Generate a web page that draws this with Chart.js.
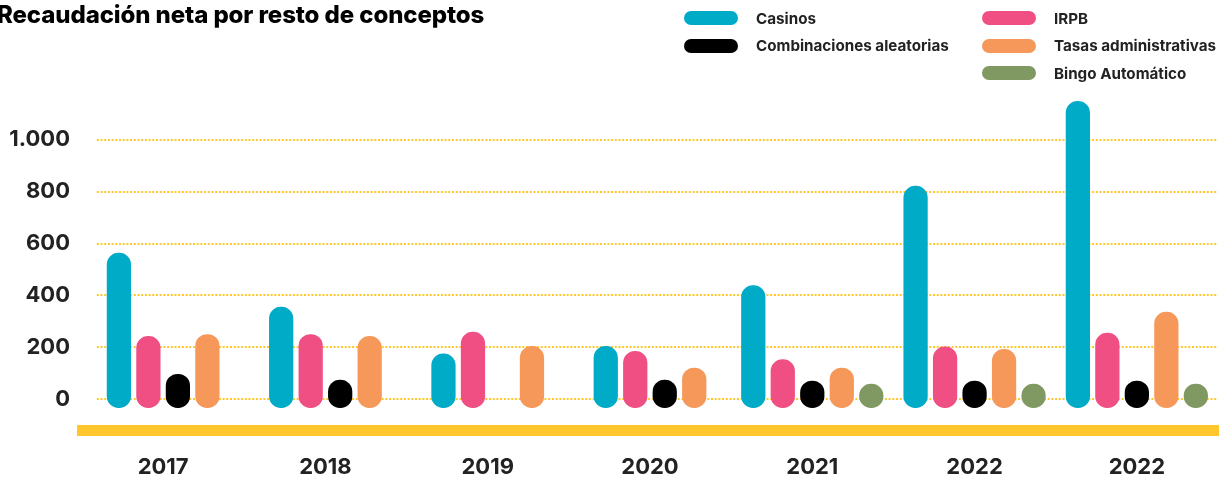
<!DOCTYPE html>
<html lang="es">
<head>
<meta charset="utf-8">
<title>Recaudación neta por resto de conceptos</title>
<script src="https://cdn.jsdelivr.net/npm/chart.js@4.4.1/dist/chart.umd.min.js"></script>
<style>
  html, body { margin: 0; padding: 0; background: #fff; }
  #wrap { position: relative; width: 1224px; height: 479px; overflow: hidden; font-family: Inter, "Noto Sans", sans-serif; }
  #title { position: absolute; left: -3px; top: 0; margin: 0; font-size: 24px; line-height: 30px; font-weight: 800; letter-spacing: -0.1px; color: #000; white-space: nowrap; }
  .leg { position: absolute; display: flex; align-items: center; height: 14px; font-size: 15.2px; font-weight: 700; color: #222; white-space: nowrap; }
  .leg i { display: inline-block; width: 54px; height: 14px; border-radius: 7px; margin-right: 18px; }
  canvas { position: absolute; left: 0; top: 0; }
</style>
</head>
<body>
<div id="wrap">
  <canvas id="chart" width="1224" height="479"></canvas>
  <h1 id="title">Recaudación neta por resto de conceptos</h1>
  <div id="legend"></div>
</div>
<script>
// valores (millones)
const years = ['2017', '2018', '2019', '2020', '2021', '2022', '2022'];
const casinos = [563, 355, 175, 204, 438, 821, 1147];
const irpb = [243, 250, 259, 185, 153, 202, 255];
const combinaciones = [97, 74, 0, 74, 71, 71, 71];
const tasas = [250, 243, 204, 121, 121, 193, 336];
const bingo = [null, null, null, null, 59, 59, 59];
const yTicks = [0, 200, 400, 600, 800, 1000];

const series = [
    { label: 'Casinos', data: casinos, color: '#00abc8' },
    { label: 'IRPB', data: irpb, color: '#ef4f82' },
    { label: 'Combinaciones aleatorias', data: combinaciones, color: '#000000' },
    { label: 'Tasas administrativas', data: tasas, color: '#f5985a' },
    { label: 'Bingo Automático', data: bingo, color: '#809862' }
];
// columnas de la leyenda (indices de series)
const legendCols = [[0, 2], [1, 3, 4]];

function fmt(v) {
    return String(v).replace(/\B(?=(\d{3})+(?!\d))/g, '.');
}

Chart.defaults.font.family = 'Inter, "Noto Sans", sans-serif';

// las rejillas empiezan algo a la derecha de la banda amarilla
const gridStart = {
    id: 'gridStart',
    beforeDatasetsDraw(chart) {
        const { ctx, chartArea } = chart;
        const y0 = chart.scales.y.getPixelForValue(0);
        ctx.save();
        ctx.fillStyle = '#fff';
        ctx.fillRect(chartArea.left, chartArea.top, 13, y0 + 3 - chartArea.top);
        ctx.restore();
    }
};

const chart = new Chart(document.getElementById('chart'), {
    type: 'bar',
    data: {
        labels: years,
        datasets: series.map(s => ({
            label: s.label,
            data: s.data,
            backgroundColor: ctx => (ctx.raw === 0 ? 'rgba(0,0,0,0)' : s.color),
            legendColor: s.color,
            base: -32,
            borderRadius: 12,
            borderSkipped: false,
            barThickness: 29.5,
            maxBarThickness: 23.6,
            skipNull: true
        }))
    },
    options: {
        responsive: false,
        animation: false,
        layout: { padding: { top: 98, right: 6, bottom: -26, left: 0 } },
        plugins: {
            legend: { display: false },
            tooltip: { enabled: false }
        },
        scales: {
            x: {
                grid: { display: false, drawTicks: false },
                border: { display: true, color: '#ffc72c', width: 11 },
                ticks: { color: '#222', font: { size: 22, weight: 'bold' }, padding: 24 }
            },
            y: {
                min: -120,
                max: 1160,
                afterBuildTicks: s => { s.ticks = yTicks.map(v => ({ value: v })); },
                afterFit: s => { s.width = 82; },
                grid: { color: '#ffc72c', lineWidth: 2, drawTicks: false },
                border: { display: false, dash: [2, 1.7] },
                ticks: { color: '#222', font: { size: 22, weight: 'bold' }, padding: 12, callback: v => fmt(v) }
            }
        }
    },
    plugins: [gridStart]
});

// leyenda en dos columnas
const legend = document.getElementById('legend');
const colLeft = [684, 982];
legendCols.forEach((col, c) => {
    col.forEach((idx, r) => {
        const ds = chart.data.datasets[idx];
        const item = document.createElement('div');
        item.className = 'leg';
        item.style.left = colLeft[c] + 'px';
        item.style.top = (11 + r * 27.5) + 'px';
        item.innerHTML = `<i style="background:${ds.legendColor}"></i>${ds.label}`;
        legend.appendChild(item);
    });
});
</script>
</body>
</html>
